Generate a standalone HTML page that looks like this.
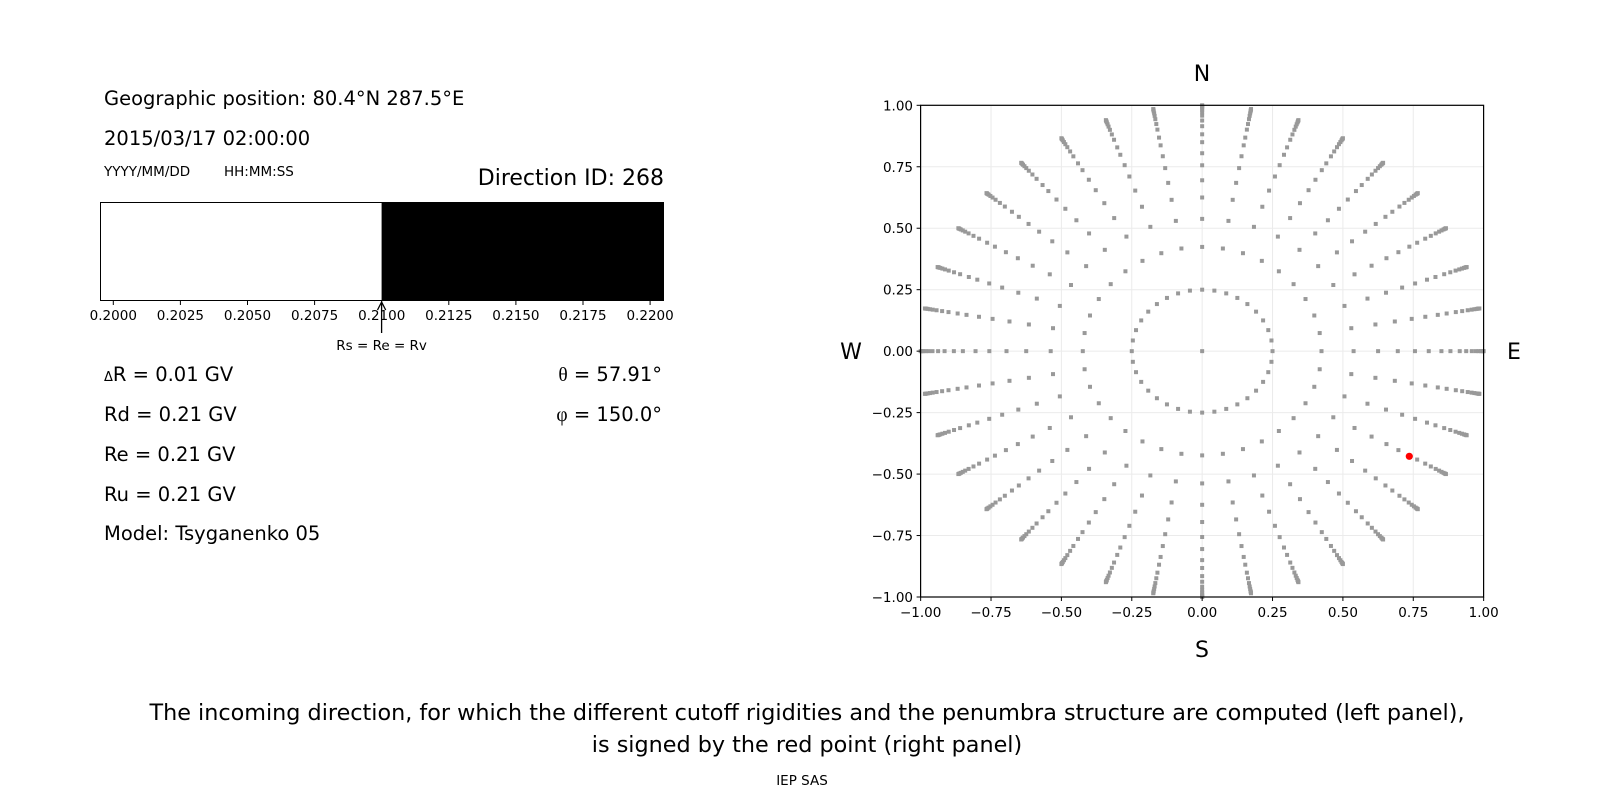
<!DOCTYPE html>
<html><head><meta charset="utf-8"><style>
html,body{margin:0;padding:0;background:#fff;}
svg{display:block;font-family:"DejaVu Sans","Liberation Sans",sans-serif;}
</style></head><body>
<svg id="s" width="1600" height="800" xmlns="http://www.w3.org/2000/svg">
<rect width="1600" height="800" fill="#fff"/>
<g font-size="19.5" fill="#000">
<text x="104" y="105">Geographic position: 80.4°N 287.5°E</text>
<text x="104" y="145">2015/03/17 02:00:00</text>
</g>
<g font-size="13.5">
<text x="104" y="176">YYYY/MM/DD</text>
<text x="224" y="176">HH:MM:SS</text>
</g>
<text x="664" y="185" font-size="22" text-anchor="end">Direction ID: 268</text>
<rect x="100.5" y="202.5" width="563" height="98" fill="#fff" stroke="#000" stroke-width="1"/>
<rect x="381.6" y="202" width="282.4" height="99" fill="#000"/>
<g id="bt" font-size="13.5" text-anchor="middle"></g>
<line x1="381.6" y1="303" x2="381.6" y2="333" stroke="#000" stroke-width="1.3"/>
<path d="M377.5,310 L381.6,302 L385.7,310" fill="none" stroke="#000" stroke-width="1.3"/>
<text x="381.6" y="350" font-size="13.5" text-anchor="middle">Rs = Re = Rv</text>
<g font-size="19.5">
<text x="104" y="381"><tspan font-size="13">Δ</tspan>R = 0.01 GV</text>
<text x="104" y="421">Rd = 0.21 GV</text>
<text x="104" y="461">Re = 0.21 GV</text>
<text x="104" y="501">Ru = 0.21 GV</text>
<text x="104" y="540">Model: Tsyganenko 05</text>
<text x="662" y="381" text-anchor="end"><tspan font-family="Liberation Serif,serif">θ</tspan> = 57.91°</text>
<text x="662" y="421" text-anchor="end"><tspan font-family="Liberation Serif,serif">φ</tspan> = 150.0°</text>
</g>
<g id="grid"></g>
<g id="dots" fill="#999"></g>
<circle cx="1409.3" cy="456.3" r="3.6" fill="#f00"/>
<rect x="920.6" y="105.3" width="563" height="491.7" fill="none" stroke="#000" stroke-width="1.2"/>
<g id="tk" font-size="13.5"></g>
<g font-size="22" text-anchor="middle">
<text x="1202" y="81">N</text>
<text x="1202" y="657">S</text>
<text x="851" y="359">W</text>
<text x="1514" y="359">E</text>
</g>
<g font-size="22.3" text-anchor="middle">
<text x="807" y="720">The incoming direction, for which the different cutoff rigidities and the penumbra structure are computed (left panel),</text>
<text x="807" y="752">is signed by the red point (right panel)</text>
</g>
<text x="802" y="785" font-size="13.5" text-anchor="middle">IEP SAS</text>
</svg>
<script>
var NS="http://www.w3.org/2000/svg";
function el(p,t,a,txt){var e=document.createElementNS(NS,t);for(var k in a)e.setAttribute(k,a[k]);if(txt!=null)e.textContent=txt;document.getElementById(p).appendChild(e);}
var bl=["0.2000","0.2025","0.2050","0.2075","0.2100","0.2125","0.2150","0.2175","0.2200"];
for(var i=0;i<9;i++){var x=113.3+i*67.1;el("bt","line",{x1:x,y1:301,x2:x,y2:305,stroke:"#000"});el("bt","text",{x:x,y:320},bl[i]);}
var cx=1202.15,cy=351.15,sx=281.5,sy=245.85;
var L=["\u22121.00","\u22120.75","\u22120.50","\u22120.25","0.00","0.25","0.50","0.75","1.00"];
for(var i=0;i<9;i++){var v=-1+i*0.25,x=cx+v*sx,y=cy-v*sy;
 el("grid","line",{x1:x,y1:105.3,x2:x,y2:597,stroke:"#ebebeb","stroke-width":1});
 el("grid","line",{x1:920.6,y1:y,x2:1483.7,y2:y,stroke:"#ebebeb","stroke-width":1});
 el("tk","line",{x1:x,y1:597,x2:x,y2:601,stroke:"#000"});
 el("tk","line",{x1:916.6,y1:y,x2:920.6,y2:y,stroke:"#000"});
 el("tk","text",{x:x,y:617,"text-anchor":"middle"},L[i]);
 el("tk","text",{x:913,y:y+5,"text-anchor":"end"},L[i]);}
var R=[0.25,0.424,0.538,0.625,0.695,0.756,0.805,0.85,0.882,0.915,0.938,0.958,0.972,0.982,0.99,0.995,0.998,1.0];
function dot(r,a){var x=cx+r*Math.cos(a)*sx,y=cy-r*Math.sin(a)*sy;el("dots","rect",{x:x-2,y:y-2,width:4,height:4});}
dot(0,0);
for(var k=0;k<36;k++){var a=k*Math.PI/18;for(var j=0;j<R.length;j++)dot(R[j],a);}
</script>
</body></html>
